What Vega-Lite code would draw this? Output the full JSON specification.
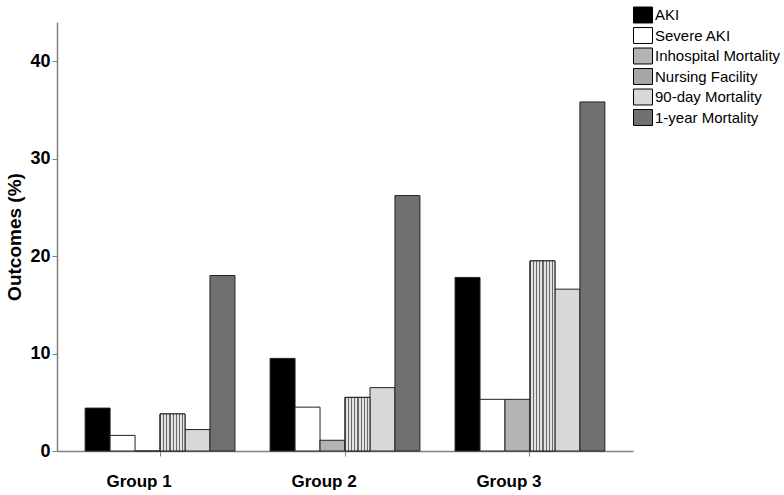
{
  "$schema": "https://vega.github.io/schema/vega-lite/v6.json",
  "autosize": "none",
  "padding": {"left": 57, "top": 22, "right": 151, "bottom": 44},
  "width": 576,
  "height": 429,
  "background": "white",
  "data": {
    "values": [
      {"group": "Group 1", "series": "AKI", "value": 4.4},
      {"group": "Group 1", "series": "Severe AKI", "value": 1.6},
      {"group": "Group 1", "series": "Inhospital Mortality", "value": 0},
      {"group": "Group 1", "series": "Nursing Facility", "value": 3.8},
      {"group": "Group 1", "series": "90-day Mortality", "value": 2.2},
      {"group": "Group 1", "series": "1-year Mortality", "value": 18.0},
      {"group": "Group 2", "series": "AKI", "value": 9.5},
      {"group": "Group 2", "series": "Severe AKI", "value": 4.5},
      {"group": "Group 2", "series": "Inhospital Mortality", "value": 1.1},
      {"group": "Group 2", "series": "Nursing Facility", "value": 5.5},
      {"group": "Group 2", "series": "90-day Mortality", "value": 6.5},
      {"group": "Group 2", "series": "1-year Mortality", "value": 26.2},
      {"group": "Group 3", "series": "AKI", "value": 17.8},
      {"group": "Group 3", "series": "Severe AKI", "value": 5.3},
      {"group": "Group 3", "series": "Inhospital Mortality", "value": 5.3},
      {"group": "Group 3", "series": "Nursing Facility", "value": 19.5},
      {"group": "Group 3", "series": "90-day Mortality", "value": 16.6},
      {"group": "Group 3", "series": "1-year Mortality", "value": 35.8}
    ]
  },
  "encoding": {
    "x": {
      "field": "group",
      "type": "nominal",
      "sort": ["Group 1", "Group 2", "Group 3"],
      "scale": {"paddingInner": 0.19, "paddingOuter": 0.152},
      "axis": {
        "title": null,
        "labelAngle": 0,
        "labelFont": "Liberation Sans",
        "labelFontSize": 17,
        "labelFontWeight": "bold",
        "labelColor": "black",
        "labelPadding": 17,
        "labelOffset": -21,
        "domainColor": "#808080",
        "domainWidth": 1.5,
        "tickColor": "#808080",
        "tickSize": 5,
        "tickWidth": 1
      }
    },
    "xOffset": {
      "field": "series",
      "type": "nominal",
      "sort": ["AKI", "Severe AKI", "Inhospital Mortality", "Nursing Facility", "90-day Mortality", "1-year Mortality"],
      "scale": {"domain": ["AKI", "Severe AKI", "Inhospital Mortality", "Nursing Facility", "90-day Mortality", "1-year Mortality"], "paddingInner": 0, "paddingOuter": 0}
    },
    "y": {
      "field": "value",
      "type": "quantitative",
      "scale": {"domain": [0, 44], "nice": false},
      "axis": {
        "title": "Outcomes (%)",
        "titleFont": "Liberation Sans",
        "titleFontSize": 19,
        "titleFontWeight": "bold",
        "titleColor": "black",
        "titlePadding": 5,
        "values": [0, 10, 20, 30, 40],
        "grid": false,
        "labelFont": "Liberation Sans",
        "labelFontSize": 18,
        "labelFontWeight": "bold",
        "labelColor": "black",
        "labelPadding": 2,
        "domainColor": "#808080",
        "domainWidth": 1.5,
        "tickColor": "#808080",
        "tickSize": 5,
        "tickWidth": 1
      }
    }
  },
  "layer": [
    {
      "mark": {"type": "bar", "stroke": "#222222", "strokeWidth": 1},
      "encoding": {
        "fill": {
          "field": "series",
          "type": "nominal",
          "sort": ["AKI", "Severe AKI", "Inhospital Mortality", "Nursing Facility", "90-day Mortality", "1-year Mortality"],
          "scale": {
            "domain": ["AKI", "Severe AKI", "Inhospital Mortality", "Nursing Facility", "90-day Mortality", "1-year Mortality"],
            "range": ["#000000", "#ffffff", "#b4b4b4", "#a6a6a6", "#d8d8d8", "#707070"]
          },
          "legend": {
            "title": null,
            "orient": "none",
            "legendX": 576,
            "legendY": -17,
            "padding": 0,
            "symbolType": "M-1,-0.84H1V0.84H-1Z",
            "symbolSize": 361,
            "symbolStrokeColor": "#000000",
            "symbolStrokeWidth": 1,
            "symbolOpacity": 1,
            "labelFont": "Liberation Sans",
            "labelFontSize": 15,
            "labelColor": "black",
            "labelOffset": 2,
            "rowPadding": 0.5
          }
        }
      }
    },
    {
      "transform": [{"filter": "datum.series === 'Nursing Facility'"}],
      "mark": {
        "type": "bar",
        "stroke": "#222222",
        "strokeWidth": 1,
        "fill": {
          "gradient": "linear", "x1": 0, "y1": 0, "x2": 1, "y2": 0,
          "stops": [
            {"offset": 0, "color": "#6a6a6a"}, {"offset": 0.045, "color": "#6a6a6a"}, {"offset": 0.045, "color": "#e2e2e2"}, {"offset": 0.125, "color": "#e2e2e2"},
            {"offset": 0.125, "color": "#6a6a6a"}, {"offset": 0.17, "color": "#6a6a6a"}, {"offset": 0.17, "color": "#e2e2e2"}, {"offset": 0.25, "color": "#e2e2e2"},
            {"offset": 0.25, "color": "#6a6a6a"}, {"offset": 0.295, "color": "#6a6a6a"}, {"offset": 0.295, "color": "#e2e2e2"}, {"offset": 0.375, "color": "#e2e2e2"},
            {"offset": 0.375, "color": "#6a6a6a"}, {"offset": 0.42, "color": "#6a6a6a"}, {"offset": 0.42, "color": "#e2e2e2"}, {"offset": 0.5, "color": "#e2e2e2"},
            {"offset": 0.5, "color": "#6a6a6a"}, {"offset": 0.545, "color": "#6a6a6a"}, {"offset": 0.545, "color": "#e2e2e2"}, {"offset": 0.625, "color": "#e2e2e2"},
            {"offset": 0.625, "color": "#6a6a6a"}, {"offset": 0.67, "color": "#6a6a6a"}, {"offset": 0.67, "color": "#e2e2e2"}, {"offset": 0.75, "color": "#e2e2e2"},
            {"offset": 0.75, "color": "#6a6a6a"}, {"offset": 0.795, "color": "#6a6a6a"}, {"offset": 0.795, "color": "#e2e2e2"}, {"offset": 0.875, "color": "#e2e2e2"},
            {"offset": 0.875, "color": "#6a6a6a"}, {"offset": 0.92, "color": "#6a6a6a"}, {"offset": 0.92, "color": "#e2e2e2"}, {"offset": 1, "color": "#e2e2e2"}
          ]
        }
      }
    }
  ],
  "config": {"view": {"stroke": null}}
}
